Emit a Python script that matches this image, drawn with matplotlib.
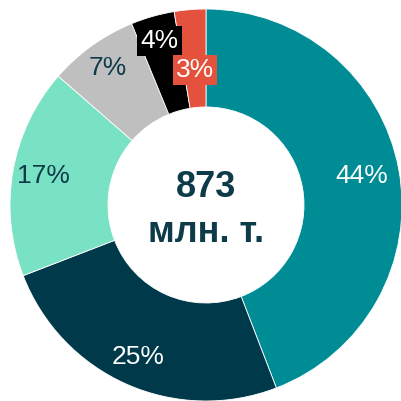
import numpy as np
import matplotlib.pyplot as plt

plt.rcParams['font.family'] = ['Liberation Sans', 'DejaVu Sans']

# доли (%), по часовой стрелке от верха
shares = [44.2, 25.0, 17.3, 7.4, 3.6, 2.6]
labels = ['44%', '25%', '17%', '7%', '4%', '3%']
colors = ['#008C95', '#003A4A', '#7AE2C4', '#BFBFBF', '#000000', '#E4513C']
text_colors = ['white', 'white', '#0D3B4A', '#0D3B4A', 'white', 'white']
boxed = [False, False, False, False, True, True]
label_r = [0.81, 0.85, 0.84, 0.86, 0.87, 0.69]  # положение подписи (доля радиуса)
total_txt = '873\nмлн. т.'

fig = plt.figure(figsize=(4.02, 4.01), dpi=100)
ax = fig.add_axes([0, 0, 1, 1])

cx, cy, R = 206, 401 - 205, 196
wedges, _ = ax.pie(shares, colors=colors, startangle=90, counterclock=False,
                   center=(cx, cy), radius=R,
                   wedgeprops=dict(width=R * 0.5, edgecolor='white', linewidth=0.6))

for w, lab, tc, bx, fr in zip(wedges, labels, text_colors, boxed, label_r):
    ang = np.deg2rad((w.theta1 + w.theta2) / 2)
    x = cx + fr * R * np.cos(ang)
    y = cy + fr * R * np.sin(ang)
    kw = {}
    if bx:
        kw['bbox'] = dict(facecolor=w.get_facecolor(), edgecolor='none', pad=2.2)
    ax.text(x, y, lab, color=tc, fontsize=19, ha='center', va='center', **kw)

ax.text(cx, cy - 5, total_txt, color='#0D3B4A', fontsize=26, fontweight='bold',
        ha='center', va='center', linespacing=1.4)

ax.set_xlim(0, 402)
ax.set_ylim(0, 401)
ax.set_aspect('equal')
ax.axis('off')

fig.savefig('out.png', dpi=100)
